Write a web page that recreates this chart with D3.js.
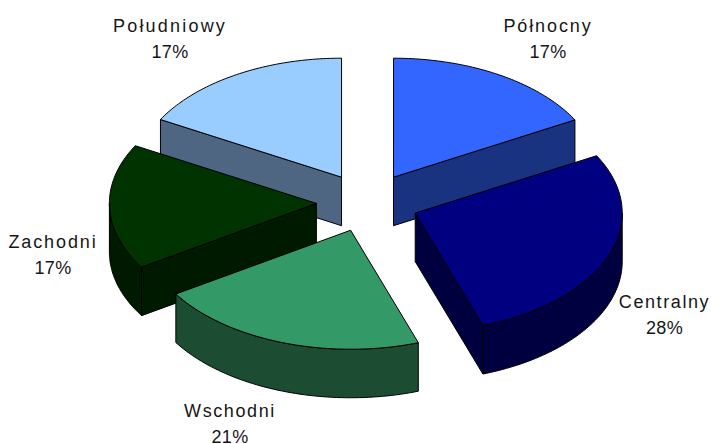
<!DOCTYPE html>
<html>
<head>
<meta charset="utf-8">
<script src="https://cdn.jsdelivr.net/npm/d3@7"></script>
<style>
html,body{margin:0;padding:0;background:#fff;overflow:hidden}
svg{display:block}
text{font-family:"Liberation Sans",Arial,sans-serif;font-size:18px;fill:#161616}
</style>
</head>
<body>
<svg id="chart" width="711" height="444"></svg>
<script>
const categories = ["Północny", "Centralny", "Wschodni", "Zachodni", "Południowy"];
const values = [17, 27.7, 21.3, 17.05, 16.95];
const valueLabels = ["17%", "28%", "21%", "17%", "17%"];
const topColors = ["#3366ff", "#000080", "#339966", "#003300", "#99ccff"];
const sideColors = ["#1a3380", "#000040", "#1c4d33", "#001a00", "#4f6683"];

const width = 711, height = 444;
const cx = 367.5, cy = 202.5, rx = 207, ry = 119, depth = 48.5, explode = 0.247;
const labelCenters = [[548, 32], [664.5, 308], [230, 417], [53, 248], [170, 32]];
const labelSpacing = [1.9, 1.6, 1.6, 1.9, 2.2];
const lineGap = 25.5;

const svg = d3.select("#chart");
const x = d3.scaleLinear().domain([-1, 1]).range([cx - rx, cx + rx]);
const y = d3.scaleLinear().domain([-1, 1]).range([cy - ry, cy + ry]);
const line = d3.line();

const arcs = d3.pie().sort(null).value(d => d)(values).map((a, i) => {
  const mid = (a.startAngle + a.endAngle) / 2;
  return { i, a0: a.startAngle, a1: a.endAngle, ox: explode * Math.sin(mid), oy: -explode * Math.cos(mid) };
});

const px = (s, t, dz = 0) => [x(s.ox + Math.sin(t)), y(s.oy - Math.cos(t)) + dz];
const apex = (s, dz = 0) => [x(s.ox), y(s.oy) + dz];
const rim = (a0, a1) => d3.range(0, 61).map(k => a0 + (a1 - a0) * k / 60);

function faces(s) {
  const out = [];
  const w0 = Math.max(s.a0, Math.PI / 2), w1 = Math.min(s.a1, 3 * Math.PI / 2);
  if (w1 > w0) {
    const ts = rim(w0, w1);
    out.push(ts.map(t => px(s, t)).concat(ts.slice().reverse().map(t => px(s, t, depth))));
  }
  if (Math.sin(s.a0) < -1e-6) out.push([apex(s), px(s, s.a0), px(s, s.a0, depth), apex(s, depth)]);
  if (Math.sin(s.a1) > 1e-6) out.push([apex(s), px(s, s.a1), px(s, s.a1, depth), apex(s, depth)]);
  return out;
}

const order = arcs.slice().sort((p, q) => p.oy - q.oy);
const g = svg.selectAll("g.slice").data(order).join("g").attr("class", "slice");

g.selectAll("path.side").data(s => faces(s).map(f => ({ f, i: s.i }))).join("path")
  .attr("class", "side")
  .attr("d", d => line(d.f) + "Z")
  .attr("fill", d => sideColors[d.i])
  .attr("stroke", "#000").attr("stroke-width", 1).attr("stroke-linejoin", "round");

g.append("path")
  .attr("d", s => line([apex(s)].concat(rim(s.a0, s.a1).map(t => px(s, t)))) + "Z")
  .attr("fill", s => topColors[s.i])
  .attr("stroke", "#000").attr("stroke-width", 1).attr("stroke-linejoin", "round");

svg.selectAll("text.label").data(categories).join("text")
  .attr("class", "label")
  .attr("text-anchor", "middle")
  .attr("x", (d, i) => labelCenters[i][0])
  .attr("y", (d, i) => labelCenters[i][1])
  .style("letter-spacing", (d, i) => labelSpacing[i] + "px")
  .text(d => d);

svg.selectAll("text.value").data(valueLabels).join("text")
  .attr("class", "value")
  .attr("text-anchor", "middle")
  .attr("x", (d, i) => labelCenters[i][0])
  .attr("y", (d, i) => labelCenters[i][1] + lineGap)
  .style("letter-spacing", "0.4px")
  .text(d => d);
</script>
</body>
</html>
